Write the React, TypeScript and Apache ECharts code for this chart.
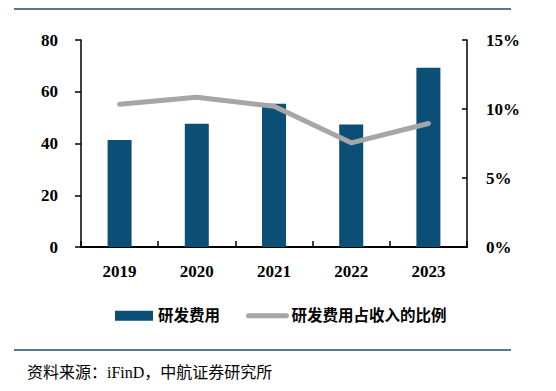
import React, { useEffect, useRef } from "react";
import * as echarts from "echarts";

const categories = ["2019", "2020", "2021", "2022", "2023"];
const rdExpense = [41.4, 47.6, 55.4, 47.3, 69.3];
const rdRatio = [10.35, 10.85, 10.2, 7.55, 8.95];
const leftTicks = [0, 20, 40, 60, 80];
const rightTicks = [0, 5, 10, 15];

const serif = "'Liberation Serif', 'Times New Roman', 'Noto Sans CJK SC', serif";
const barColor = "#0b4e76";
const lineColor = "#a6a6a6";

export default function App() {
  const ref = useRef<HTMLDivElement>(null);
  useEffect(() => {
    if (!ref.current) return;
    const chart = echarts.init(ref.current, undefined, { renderer: "svg" });
    chart.setOption({
      animation: false,
      backgroundColor: "#ffffff",
      grid: { left: 81, right: 89, top: 40, bottom: 144, containLabel: false },
      legend: {
        left: 115,
        top: 308,
        padding: 0,
        itemWidth: 38,
        itemHeight: 10,
        itemGap: 26,
        textStyle: { fontFamily: serif, fontSize: 15.5, fontWeight: "bold", color: "#000" },
        data: [
          { name: "研发费用", icon: "rect" },
          {
            name: "研发费用占收入的比例",
            itemStyle: { opacity: 0 },
            lineStyle: { width: 5, color: lineColor },
          },
        ],
      },
      xAxis: {
        type: "category",
        data: categories,
        axisLine: { lineStyle: { color: "#000", width: 2 } },
        axisTick: { show: true, inside: true, length: 6, lineStyle: { color: "#000", width: 1.5 } },
        axisLabel: { margin: 16, fontFamily: serif, fontSize: 17, fontWeight: "bold", color: "#000" },
      },
      yAxis: [
        {
          type: "value",
          min: leftTicks[0],
          max: leftTicks[leftTicks.length - 1],
          interval: 20,
          splitLine: { show: false },
          axisLine: { show: true, lineStyle: { color: "#000", width: 1.5 } },
          axisTick: { show: true, length: 6, lineStyle: { color: "#000", width: 1.5 } },
          axisLabel: { margin: 23, fontFamily: serif, fontSize: 17, fontWeight: "bold", color: "#000" },
        },
        {
          type: "value",
          position: "right",
          min: rightTicks[0],
          max: rightTicks[rightTicks.length - 1],
          interval: 5,
          splitLine: { show: false },
          axisLine: { show: true, lineStyle: { color: "#000", width: 1.5 } },
          axisTick: { show: true, inside: true, length: 5, lineStyle: { color: "#000", width: 1.5 } },
          axisLabel: {
            margin: 19,
            fontFamily: serif,
            fontSize: 17,
            fontWeight: "bold",
            color: "#000",
            formatter: (v: number) => `${v}%`,
          },
        },
      ],
      series: [
        {
          name: "研发费用",
          type: "bar",
          data: rdExpense,
          barWidth: 24,
          itemStyle: { color: barColor },
        },
        {
          name: "研发费用占收入的比例",
          type: "line",
          yAxisIndex: 1,
          data: rdRatio,
          symbol: "none",
          itemStyle: { color: lineColor },
          lineStyle: { color: lineColor, width: 5, cap: "round", join: "round" },
        },
      ],
      graphic: [
        { type: "line", shape: { x1: 14, y1: 9, x2: 511, y2: 9 }, style: { stroke: "#1d4a6c", lineWidth: 1.5 } },
        { type: "line", shape: { x1: 14, y1: 350, x2: 511, y2: 350 }, style: { stroke: "#1d4a6c", lineWidth: 1.5 } },
        {
          type: "text",
          left: 27,
          top: 364,
          style: {
            text: "资料来源：iFinD，中航证券研究所",
            fontFamily: serif,
            fontSize: 16,
            fill: "#000",
          },
        },
      ],
    });
    return () => chart.dispose();
  }, []);
  return <div ref={ref} style={{ position: "fixed", left: 0, top: 0, width: 556, height: 391 }} />;
}
